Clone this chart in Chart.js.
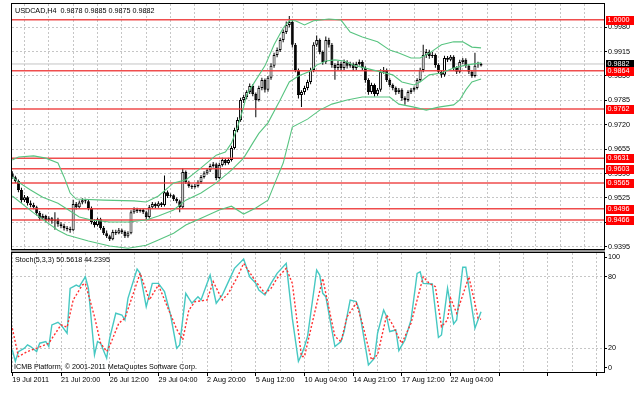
<!DOCTYPE html>
<html><head><meta charset="utf-8">
<script src="https://cdn.jsdelivr.net/npm/chart.js@4.4.0/dist/chart.umd.min.js"></script>
<style>
html,body{margin:0;padding:0;background:#fff;width:640px;height:396px;overflow:hidden;position:relative;}
#c1{position:absolute;left:0;top:0;}
#c2{position:absolute;left:0;top:250px;}
.t{position:absolute;font-family:"Liberation Sans",Arial,sans-serif;font-size:7.2px;color:#000;white-space:pre;line-height:9px;}
</style></head><body>
<canvas id="c1" width="640" height="250"></canvas>
<canvas id="c2" width="640" height="146"></canvas>
<div class="t" style="left:15px;top:5.5px">USDCAD,H4  0.9878 0.9885 0.9875 0.9882</div>
<div class="t" style="left:15px;top:255px">Stoch(5,3,3) 50.5618 44.2395</div>
<div class="t" style="left:14px;top:362px">ICMB Platform, © 2001-2011 MetaQuotes Software Corp.</div>
<script>
// ---------- DATA ----------
const xTickLabels = ['19 Jul 2011','21 Jul 20:00','26 Jul 12:00','29 Jul 04:00','2 Aug 20:00','5 Aug 12:00','10 Aug 04:00','14 Aug 21:00','17 Aug 12:00','22 Aug 04:00'];
const priceTicks = [0.9395,0.9460,0.9525,0.9590,0.9655,0.9720,0.9785,0.9850,0.9915,0.9980];
const levels = [1.0000,0.9864,0.9762,0.9631,0.9603,0.9565,0.9496,0.9466];
const lastPrice = 0.9882;

const opens = [0.9590,0.9580,0.9570,0.9546,0.9519,0.9527,0.9511,0.9506,0.9500,0.9485,
0.9471,0.9477,0.9466,0.9471,0.9463,0.9468,0.9455,0.9450,0.9445,0.9442,
0.9439,0.9509,0.9500,0.9513,0.9519,0.9516,0.9498,0.9461,0.9453,0.9468,
0.9445,0.9431,0.9423,0.9415,0.9434,0.9431,0.9439,0.9434,0.9423,0.9431,
0.9487,0.9495,0.9490,0.9493,0.9487,0.9474,0.9500,0.9509,0.9503,0.9511,
0.9506,0.9540,0.9530,0.9532,0.9522,0.9516,0.9500,0.9594,0.9567,0.9557,
0.9554,0.9557,0.9567,0.9581,0.9591,0.9599,0.9610,0.9615,0.9578,0.9613,
0.9626,0.9618,0.9626,0.9658,0.9706,0.9733,0.9786,0.9794,0.9807,0.9823,
0.9802,0.9786,0.9818,0.9839,0.9813,0.9845,0.9877,0.9906,0.9919,0.9946,
0.9967,0.9986,0.9994,0.9933,0.9866,0.9799,0.9807,0.9818,0.9834,0.9866,
0.9933,0.9946,0.9914,0.9887,0.9946,0.9933,0.9879,0.9871,0.9882,0.9871,
0.9887,0.9877,0.9882,0.9871,0.9882,0.9887,0.9871,0.9839,0.9807,0.9826,
0.9802,0.9813,0.9861,0.9866,0.9839,0.9826,0.9818,0.9807,0.9813,0.9791,
0.9786,0.9807,0.9813,0.9818,0.9839,0.9866,0.9906,0.9914,0.9903,0.9906,
0.9879,0.9861,0.9853,0.9898,0.9893,0.9901,0.9871,0.9861,0.9887,0.9893,
0.9877,0.9861,0.9850,0.9877,0.9878];
const highs = [0.9596,0.9584,0.9574,0.9552,0.9533,0.9530,0.9518,0.9512,0.9504,0.9490,
0.9483,0.9480,0.9476,0.9474,0.9487,0.9472,0.9460,0.9456,0.9450,0.9448,
0.9520,0.9514,0.9518,0.9524,0.9523,0.9520,0.9502,0.9468,0.9472,0.9472,
0.9450,0.9438,0.9427,0.9440,0.9440,0.9445,0.9443,0.9438,0.9436,0.9492,
0.9500,0.9499,0.9497,0.9496,0.9491,0.9506,0.9514,0.9513,0.9516,0.9514,
0.9585,0.9545,0.9537,0.9535,0.9526,0.9520,0.9604,0.9598,0.9571,0.9561,
0.9562,0.9572,0.9586,0.9596,0.9605,0.9616,0.9621,0.9619,0.9619,0.9632,
0.9630,0.9632,0.9664,0.9712,0.9740,0.9792,0.9800,0.9812,0.9830,0.9828,
0.9806,0.9824,0.9845,0.9843,0.9850,0.9884,0.9912,0.9926,0.9952,0.9974,
0.9995,1.0010,1.0000,0.9938,0.9870,0.9812,0.9824,0.9840,0.9872,0.9940,
0.9958,0.9950,0.9918,0.9955,0.9952,0.9938,0.9884,0.9890,0.9888,0.9894,
0.9892,0.9888,0.9886,0.9888,0.9894,0.9892,0.9876,0.9844,0.9832,0.9830,
0.9818,0.9868,0.9874,0.9870,0.9844,0.9830,0.9822,0.9818,0.9817,0.9796,
0.9812,0.9818,0.9822,0.9844,0.9872,0.9933,0.9922,0.9920,0.9914,0.9910,
0.9884,0.9866,0.9904,0.9903,0.9906,0.9905,0.9876,0.9893,0.9898,0.9897,
0.9882,0.9866,0.9912,0.9888,0.9885];
const lows = [0.9576,0.9565,0.9540,0.9512,0.9514,0.9505,0.9500,0.9495,0.9478,0.9465,
0.9468,0.9460,0.9462,0.9456,0.9440,0.9448,0.9444,0.9438,0.9436,0.9432,
0.9436,0.9494,0.9496,0.9508,0.9510,0.9492,0.9455,0.9446,0.9449,0.9440,
0.9426,0.9418,0.9410,0.9412,0.9426,0.9428,0.9429,0.9418,0.9419,0.9428,
0.9483,0.9485,0.9486,0.9482,0.9466,0.9470,0.9496,0.9498,0.9499,0.9501,
0.9502,0.9525,0.9526,0.9517,0.9511,0.9487,0.9496,0.9562,0.9552,0.9549,
0.9550,0.9553,0.9563,0.9577,0.9587,0.9594,0.9606,0.9572,0.9575,0.9609,
0.9612,0.9614,0.9622,0.9654,0.9700,0.9728,0.9778,0.9788,0.9802,0.9796,
0.9740,0.9782,0.9812,0.9806,0.9808,0.9840,0.9872,0.9900,0.9914,0.9940,
0.9962,0.9980,0.9926,0.9860,0.9790,0.9767,0.9800,0.9812,0.9828,0.9860,
0.9928,0.9908,0.9880,0.9882,0.9926,0.9872,0.9840,0.9866,0.9864,0.9866,
0.9870,0.9872,0.9864,0.9866,0.9878,0.9864,0.9832,0.9800,0.9802,0.9795,
0.9797,0.9808,0.9856,0.9834,0.9820,0.9812,0.9800,0.9802,0.9784,0.9773,
0.9781,0.9802,0.9808,0.9814,0.9834,0.9860,0.9898,0.9896,0.9898,0.9872,
0.9855,0.9845,0.9848,0.9887,0.9889,0.9864,0.9855,0.9857,0.9882,0.9871,
0.9855,0.9845,0.9846,0.9872,0.9875];
const closes = [0.9580,0.9570,0.9546,0.9519,0.9527,0.9511,0.9506,0.9500,0.9485,0.9471,
0.9477,0.9466,0.9471,0.9463,0.9468,0.9455,0.9450,0.9445,0.9442,0.9439,
0.9509,0.9500,0.9513,0.9519,0.9516,0.9498,0.9461,0.9453,0.9468,0.9445,
0.9431,0.9423,0.9415,0.9434,0.9431,0.9439,0.9434,0.9423,0.9431,0.9487,
0.9495,0.9490,0.9493,0.9487,0.9474,0.9500,0.9509,0.9503,0.9511,0.9506,
0.9540,0.9530,0.9532,0.9522,0.9516,0.9500,0.9594,0.9567,0.9557,0.9554,
0.9557,0.9567,0.9581,0.9591,0.9599,0.9610,0.9615,0.9578,0.9613,0.9626,
0.9618,0.9626,0.9658,0.9706,0.9733,0.9786,0.9794,0.9807,0.9823,0.9802,
0.9786,0.9818,0.9839,0.9813,0.9845,0.9877,0.9906,0.9919,0.9946,0.9967,
0.9986,0.9994,0.9933,0.9866,0.9799,0.9807,0.9818,0.9834,0.9866,0.9933,
0.9946,0.9914,0.9887,0.9946,0.9933,0.9879,0.9871,0.9882,0.9871,0.9887,
0.9877,0.9882,0.9871,0.9882,0.9887,0.9871,0.9839,0.9807,0.9826,0.9802,
0.9813,0.9861,0.9866,0.9839,0.9826,0.9818,0.9807,0.9813,0.9791,0.9786,
0.9807,0.9813,0.9818,0.9839,0.9866,0.9906,0.9914,0.9903,0.9906,0.9879,
0.9861,0.9853,0.9898,0.9893,0.9901,0.9871,0.9861,0.9887,0.9893,0.9877,
0.9861,0.9850,0.9877,0.9878,0.9882];

// Bollinger bands (bar index, value)
const bbUpIdx = [0,2,7,11,15,17,19,21,30,40,44,48,53,57,62,67,70,72,74,76,77,80,83,86,89,91,93,96,99,104,108,111,115,120,124,127,131,134,137,141,145,148,151,154];
const bbUpVal = [0.9626,0.9634,0.9637,0.9631,0.9618,0.9581,0.9538,0.9522,0.9519,0.9517,0.9514,0.9530,0.9565,0.9573,0.9605,0.9639,0.9647,0.9671,0.9714,0.9767,0.9800,0.9839,0.9877,0.9933,0.9978,0.9997,0.9997,0.9986,0.9997,1.0002,0.9999,0.9967,0.9954,0.9941,0.9919,0.9911,0.9898,0.9898,0.9911,0.9933,0.9941,0.9941,0.9927,0.9925];
const bbMidIdx = [0,2,6,10,15,19,22,26,32,38,44,48,53,57,62,67,72,76,79,81,84,88,91,94,98,100,103,106,109,112,116,121,125,128,132,134,137,141,145,149,154];
const bbMidVal = [0.9581,0.9567,0.9546,0.9527,0.9511,0.9490,0.9474,0.9466,0.9461,0.9461,0.9466,0.9477,0.9493,0.9519,0.9538,0.9565,0.9599,0.9631,0.9671,0.9697,0.9725,0.9786,0.9834,0.9850,0.9863,0.9879,0.9890,0.9893,0.9890,0.9879,0.9871,0.9861,0.9853,0.9834,0.9826,0.9834,0.9853,0.9858,0.9871,0.9879,0.9885];
const bbLowIdx = [0,7,15,18,25,32,38,44,48,53,57,62,68,72,76,80,84,86,89,92,97,101,105,110,115,124,127,132,136,140,145,147,149,151,154];
const bbLowVal = [0.9530,0.9485,0.9439,0.9426,0.9410,0.9397,0.9391,0.9399,0.9413,0.9431,0.9453,0.9471,0.9493,0.9503,0.9482,0.9498,0.9519,0.9559,0.9618,0.9714,0.9735,0.9759,0.9775,0.9786,0.9794,0.9794,0.9775,0.9767,0.9759,0.9767,0.9773,0.9786,0.9813,0.9834,0.9842];

// Stochastic %K (main) and %D (signal)
const kIdx = [0,1,2,4,5,6,8,9,11,12,13,15,16,18,19,21,22,24,25,27,28,29,31,32,34,36,37,38,41,42,44,46,48,50,52,54,55,57,58,59,61,62,65,67,69,70,73,76,78,80,81,83,85,87,90,92,94,95,96,97,100,101,102,103,106,108,109,111,113,114,117,119,120,122,123,124,126,127,129,131,133,134,135,138,140,141,143,145,146,148,149,152,154];
const kVal = [18.6,9,17,20,22.8,21.4,17.2,24.2,25.6,21.4,39.6,41.8,39.6,32.6,70.3,73.1,71.7,80,70.3,14.4,25.6,24.2,11.6,28.4,49.4,47.9,43.8,61.9,86.5,82.9,54.9,74.5,74.5,67.5,47.9,20,22.8,66.1,61.9,57.8,63.3,60.5,81.5,57.8,64.7,70.3,87.1,95,80,74.5,68.9,64.7,74.5,82.9,91.3,45,9,14.4,21.4,29.8,85.7,81.5,66.1,63.3,21.4,25.6,33.9,60.5,59.1,52.1,6,11.6,32.6,52.1,46.5,34,35.3,18,27,43.8,82.9,84.2,74.5,74,29,31.1,70.5,40.5,43.8,88,88,36.8,50.5618];
const dIdx = [0,2,5,8,12,16,18,20,23,24,27,29,31,32,35,37,42,45,48,54,56,58,60,64,66,69,71,74,76,80,83,85,87,90,92,95,96,98,102,103,106,108,110,113,115,118,120,123,125,127,128,131,135,137,139,141,143,144,146,150,152,153,154];
const dVal = [36.8,13,17.2,20,24.2,39.6,37.6,60.5,73.1,74.5,46.5,24.2,17.2,22,41,45.2,83,60.5,73.1,36,27,52,59.1,60.5,76,60.5,66.1,80,91.3,76,66.1,70.3,78.7,87.1,74.5,13,13,35.3,78.7,66.1,29.8,25.6,46.5,57.8,41,10.2,14.4,47.9,39.6,28.4,24.2,41,80,74.5,71.7,38.1,43.8,61.9,49.4,80,57.8,45.2,44.2395];
const stochTicks = [0,20,80,100];

// ---------- CHART SETUP ----------
const X_MIN = -0.1, X_MAX = 194.4;
const P_MIN = 0.938885, P_MAX = 1.004184;
const FONT = {family: '"Liberation Sans", Arial, sans-serif', size: 7.2};
const GRID = '#c6c6c6';
Chart.defaults.font.family = FONT.family;
Chart.defaults.color = '#000';
const idx = closes.map((_, i) => i);
const xGridTicks = [];
for (let v = 0; v <= 192; v += 8) xGridTicks.push(v);

const noPad = s => { s.paddingTop = 0; s.paddingBottom = 0; s.paddingLeft = 0; s.paddingRight = 0; };

const framePlugin = {
  id: 'frame',
  afterDraw(chart) {
    const {ctx, chartArea: a} = chart;
    ctx.save();
    ctx.strokeStyle = '#000';
    ctx.lineWidth = 1;
    ctx.strokeRect(a.left - 0.5, a.top - 0.5, a.right - a.left + 1, a.bottom - a.top + 1);
    ctx.restore();
  }
};
const priceLabelPlugin = {
  id: 'priceLabels',
  afterDraw(chart) {
    const ctx = chart.ctx, ys = chart.scales.y;
    ctx.save();
    ctx.font = FONT.size + 'px ' + FONT.family;
    ctx.textBaseline = 'middle';
    ctx.textAlign = 'left';
    const box = (v, bg) => {
      const py = Math.round(ys.getPixelForValue(v));
      ctx.fillStyle = bg;
      ctx.fillRect(606, py - 4, 28, 9);
      ctx.fillStyle = '#fff';
      ctx.fillText(v.toFixed(4), 607.5, py + 0.5);
    };
    box(lastPrice, '#000');
    levels.forEach(v => box(v, '#f00'));
    ctx.restore();
  }
};
const sepPlugin = {
  id: 'sep',
  beforeDraw(chart) {
    const ctx = chart.ctx;
    ctx.save();
    ctx.fillStyle = '#9a9a9a';
    ctx.fillRect(11, 0, 594, 2);
    ctx.restore();
  }
};

const hLine = (v, color, w, order) => ({
  type: 'line', data: [{x: X_MIN, y: v}, {x: X_MAX, y: v}],
  borderColor: color, borderWidth: w, pointRadius: 0, order: order
});
const band = (xs, vs) => ({
  type: 'line', data: xs.map((x, j) => ({x: x, y: vs[j]})),
  borderColor: 'rgb(88,196,128)', borderWidth: 1.1, pointRadius: 0, tension: 0, order: 0
});

new Chart(document.getElementById('c1'), {
  type: 'bar',
  data: {
    datasets: [
      ...levels.map(v => hLine(v, 'rgba(238,62,62,0.92)', 1.5, 1)),
      hLine(lastPrice, '#c4c4c4', 1, 9),
      {type: 'bar', data: idx.map(i => ({x: i, y: [lows[i], highs[i]]})),
       backgroundColor: '#000', borderWidth: 0, barThickness: 1, grouped: false, inflateAmount: 0, order: 4},
      {type: 'bar', data: idx.map(i => ({x: i, y: [opens[i], closes[i]]})),
       backgroundColor: idx.map(i => closes[i] >= opens[i] ? '#fff' : '#000'),
       borderColor: '#000', borderWidth: 1, borderSkipped: false,
       barThickness: 3, grouped: false, inflateAmount: 0, order: 3},
      band(bbUpIdx, bbUpVal),
      band(bbMidIdx, bbMidVal),
      band(bbLowIdx, bbLowVal)
    ]
  },
  options: {
    responsive: false, animation: false, devicePixelRatio: 1,
    layout: {padding: {left: 12, top: 4, right: 0, bottom: 1}},
    plugins: {legend: {display: false}, tooltip: {enabled: false}},
    scales: {
      x: {
        type: 'linear', min: X_MIN, max: X_MAX, offset: false,
        afterBuildTicks: s => { s.ticks = xGridTicks.map(v => ({value: v})); },
        afterFit: s => { s.height = 0; noPad(s); },
        ticks: {display: false},
        grid: {color: GRID, drawTicks: false, lineWidth: 1},
        border: {display: false, dash: [2, 2]}
      },
      y: {
        position: 'right', min: P_MIN, max: P_MAX,
        afterBuildTicks: s => { s.ticks = priceTicks.map(v => ({value: v})); },
        afterFit: s => { s.width = 36; noPad(s); },
        ticks: {callback: v => Number(v).toFixed(4), font: FONT, color: '#000', padding: 1},
        grid: {color: GRID, tickColor: '#000', tickLength: 3, drawTicks: true},
        border: {display: false, dash: [2, 2]}
      }
    }
  },
  plugins: [framePlugin, priceLabelPlugin]
});

new Chart(document.getElementById('c2'), {
  type: 'line',
  data: {
    datasets: [
      {data: dIdx.map((x, j) => ({x: x, y: dVal[j]})), borderColor: 'rgb(255,48,48)',
       borderDash: [2, 2], borderWidth: 1.4, pointRadius: 0, tension: 0, order: 0},
      {data: kIdx.map((x, j) => ({x: x, y: kVal[j]})), borderColor: 'rgb(70,200,194)',
       borderWidth: 1.4, pointRadius: 0, tension: 0, order: 1}
    ]
  },
  options: {
    responsive: false, animation: false, devicePixelRatio: 1,
    layout: {padding: {left: 12, top: 3, right: 0, bottom: 0}},
    plugins: {legend: {display: false}, tooltip: {enabled: false}},
    scales: {
      x: {
        type: 'linear', min: X_MIN, max: X_MAX, offset: false,
        afterBuildTicks: s => { s.ticks = xGridTicks.map(v => ({value: v})); },
        afterFit: s => { s.height = 24; noPad(s); },
        ticks: {
          autoSkip: false, maxRotation: 0, minRotation: 0, align: 'start', padding: 0,
          font: FONT, color: '#000',
          callback: v => { const k = Math.round(v); return (k % 16 === 0 && k / 16 < xTickLabels.length) ? xTickLabels[k / 16] : ''; }
        },
        grid: {color: GRID, drawTicks: true, tickLength: 4,
               tickColor: c => (c.tick && Math.round(c.tick.value) % 16 === 0) ? '#000' : 'rgba(0,0,0,0)'},
        border: {display: false, dash: [2, 2]}
      },
      y: {
        position: 'right', min: 0, max: 100,
        // MT4 prints the 0 and 100 labels just inside the panel edges
        afterBuildTicks: s => { s.ticks = stochTicks.map(v => ({value: v === 0 ? 3.5 : (v === 100 ? 96.5 : v)})); },
        afterFit: s => { s.width = 36; noPad(s); },
        ticks: {font: FONT, color: '#000', padding: 1,
                callback: (v, i) => String(stochTicks[i])},
        grid: {color: c => (c.tick && (c.tick.value === 20 || c.tick.value === 80)) ? GRID : 'rgba(0,0,0,0)',
               tickColor: '#000', tickLength: 3},
        border: {display: false, dash: [2, 2]}
      }
    }
  },
  plugins: [sepPlugin, framePlugin]
});
</script>
</body></html>
